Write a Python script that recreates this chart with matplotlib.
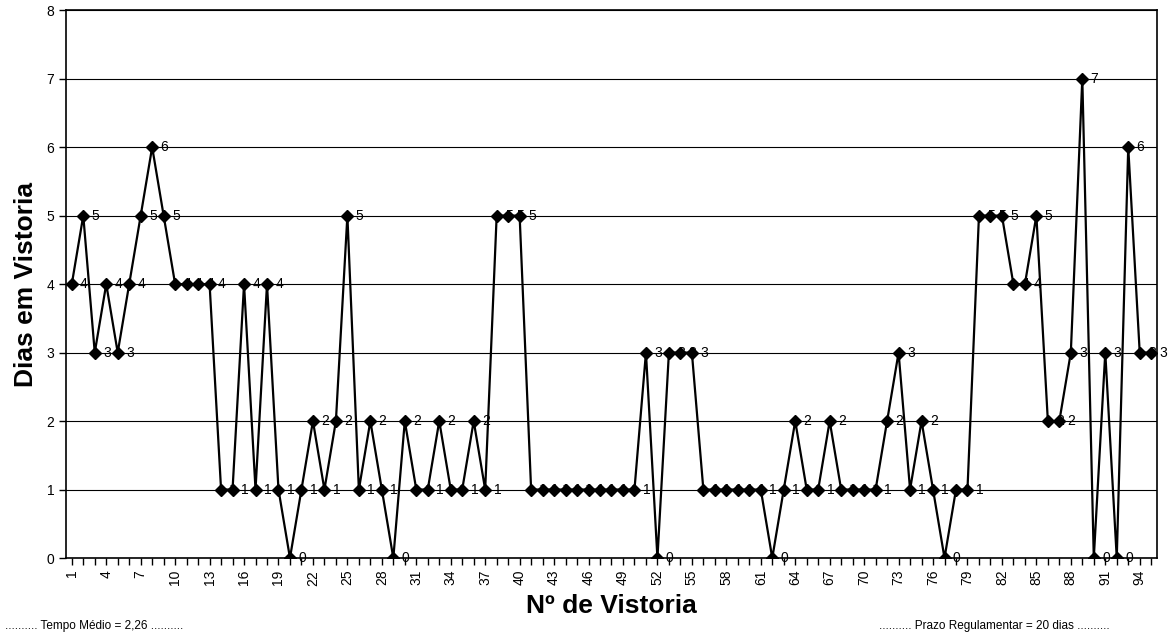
import numpy as np
import matplotlib
matplotlib.use('Agg')
import matplotlib.pyplot as plt

plt.rcParams['font.family'] = ['Liberation Sans', 'DejaVu Sans']

# Dias em vistoria para cada vistoria (1..95)
dias = [4, 5, 3, 4, 3, 4, 5, 6, 5, 4, 4, 4, 4,
        1, 1, 4, 1, 4, 1, 0,
        1, 2, 1, 2, 5, 1, 2, 1, 0, 2, 1, 1, 2, 1, 1, 2, 1, 5, 5, 5,
        1, 1, 1, 1, 1, 1, 1, 1, 1, 1,
        3, 0, 3, 3, 3,
        1, 1, 1, 1, 1, 1,
        0,
        1, 2, 1, 1, 2, 1, 1, 1, 1,
        2, 3, 1, 2, 1, 0, 1, 1,
        5, 5, 5, 4, 4, 5, 2, 2, 3, 7, 0, 3, 0, 6, 3, 3]
vistorias = list(range(1, len(dias) + 1))
tick_labels = [str(v) for v in vistorias[::3]]

fig = plt.figure(figsize=(11.71, 6.37), dpi=100)
ax = fig.add_axes([0.0564, 0.124, 0.9316, 0.86])

ax.plot(vistorias, dias, color='black', lw=1.6, marker='D', ms=6,
        markerfacecolor='black', markeredgecolor='black', zorder=3)

# rotulos de dados
for x, y in zip(vistorias, dias):
    ax.annotate(str(y), (x, y), xytext=(6, 0), textcoords='offset points',
                ha='left', va='center', fontsize=10, color='black', zorder=2.5)

ax.set_xlim(0.5, 95.5)
ax.set_ylim(0, 8)
ax.set_yticks(range(0, 9))
ax.set_yticklabels([str(i) for i in range(0, 9)], fontsize=10)
ax.set_xticks(vistorias[::3])
ax.set_xticklabels(tick_labels, rotation=90, fontsize=10)
ax.set_xticks(vistorias, minor=True)
ax.tick_params(axis='x', which='both', direction='out', length=5, width=1)
ax.tick_params(axis='y', direction='out', length=5, width=1)

ax.grid(axis='y', color='black', lw=0.8)
ax.set_axisbelow(True)
for s in ax.spines.values():
    s.set_color('black')
    s.set_linewidth(1.2)

ax.set_ylabel('Dias em Vistoria', fontsize=19, fontweight='bold', labelpad=6)
ax.set_xlabel('Nº de Vistoria', fontsize=19, fontweight='bold', labelpad=6)

fig.text(0.004, 0.018, '.......... Tempo Médio = 2,26 ..........', fontsize=8.5,
         ha='left', va='center')
fig.text(0.948, 0.018, '.......... Prazo Regulamentar = 20 dias ..........',
         fontsize=8.5, ha='right', va='center')

fig.savefig('out.png', dpi=100)
